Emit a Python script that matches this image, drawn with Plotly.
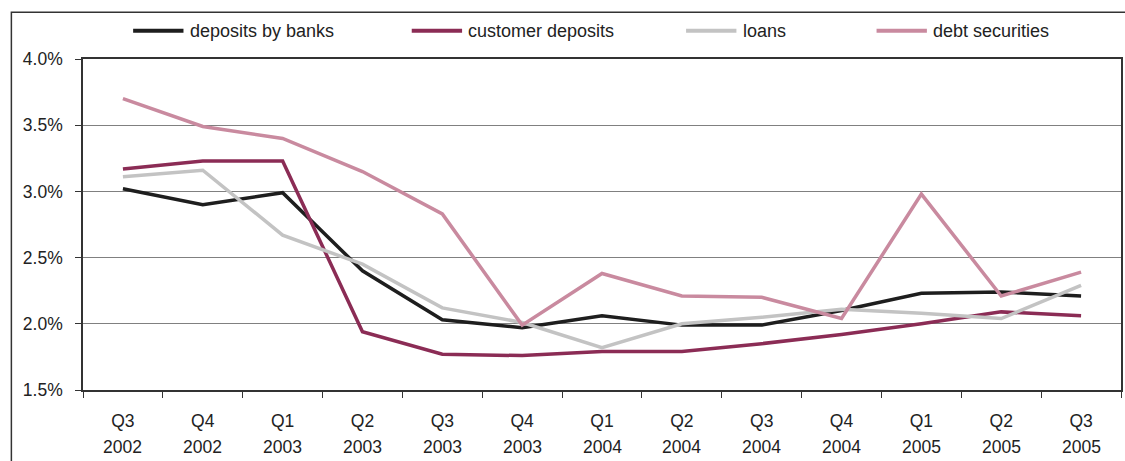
import plotly.graph_objects as go

quarter_labels = ["Q3", "Q4", "Q1", "Q2", "Q3", "Q4", "Q1", "Q2", "Q3", "Q4", "Q1", "Q2", "Q3"]
year_labels = ["2002", "2002", "2003", "2003", "2003", "2003", "2004", "2004", "2004", "2004", "2005", "2005", "2005"]
categories = [f"{q} {y}" for q, y in zip(quarter_labels, year_labels)]

deposits_by_banks = [3.02, 2.90, 2.99, 2.40, 2.03, 1.97, 2.06, 1.99, 1.99, 2.10, 2.23, 2.24, 2.21]
customer_deposits = [3.17, 3.23, 3.23, 1.94, 1.77, 1.76, 1.79, 1.79, 1.85, 1.92, 2.00, 2.09, 2.06]
loans = [3.11, 3.16, 2.67, 2.45, 2.12, 2.01, 1.82, 2.00, 2.05, 2.11, 2.08, 2.04, 2.29]
debt_securities = [3.70, 3.49, 3.40, 3.15, 2.83, 1.99, 2.38, 2.21, 2.20, 2.04, 2.98, 2.21, 2.39]

series_names = ["deposits by banks", "customer deposits", "loans", "debt securities"]
series_values = [deposits_by_banks, customer_deposits, loans, debt_securities]
series_colors = ["#1e1e1e", "#8b2c55", "#c3c3c3", "#c98a9f"]

y_ticks = [1.5, 2.0, 2.5, 3.0, 3.5, 4.0]

FONT = "Liberation Sans, Arial, sans-serif"
TXT = "#222222"
TICK_SIZE = 17.5

fig = go.Figure()
for name, vals, col in zip(series_names, series_values, series_colors):
    fig.add_trace(go.Scatter(x=categories, y=vals, name=name, mode="lines",
                             line=dict(color=col, width=3.5), showlegend=False))

# manual legend (line sample + label)
legend_x = [0.0483, 0.3167, 0.5810, 0.7645]
ly = 1.0855
for name, col, lx in zip(series_names, series_colors, legend_x):
    fig.add_shape(type="line", xref="paper", yref="paper", x0=lx, x1=lx + 0.0485,
                  y0=ly, y1=ly, line=dict(color=col, width=4))
    fig.add_annotation(xref="paper", yref="paper", x=lx + 0.0525, y=ly, text=name,
                       showarrow=False, xanchor="left", yanchor="middle",
                       font=dict(family=FONT, size=18, color=TXT))

# second row of category labels (years)
for cat, yr in zip(categories, year_labels):
    fig.add_annotation(xref="x", yref="paper", x=cat, y=0, text=yr, showarrow=False,
                       xanchor="center", yanchor="middle", yshift=-57,
                       font=dict(family=FONT, size=TICK_SIZE, color=TXT))

# outer frame
fig.add_shape(type="rect", xref="paper", yref="paper", x0=-0.069, x1=1.05,
              y0=-0.4, y1=1.141, line=dict(color="#333", width=1.5), layer="below")

fig.update_layout(
    width=1125, height=461,
    margin=dict(l=82.5, r=2, t=59, b=71),
    paper_bgcolor="white", plot_bgcolor="white",
    font=dict(family=FONT, size=TICK_SIZE, color=TXT),
    showlegend=False,
    xaxis=dict(type="category", categoryorder="array", categoryarray=categories,
               tickvals=categories, ticktext=quarter_labels,
               showline=True, linecolor="#333", linewidth=1.5, mirror=True,
               ticks="outside", tickson="boundaries", ticklen=6, tickcolor="#333",
               showgrid=False, range=[-0.5, 12.5], ticklabelstandoff=14),
    yaxis=dict(range=[1.5, 4.0], tickvals=y_ticks, ticktext=[f"{v:.1f}%" for v in y_ticks],
               showline=True, linecolor="#333", linewidth=1.5, mirror=True,
               ticks="outside", ticklen=6, tickcolor="#333",
               showgrid=True, gridcolor="#808080", gridwidth=1, zeroline=False,
               ticklabelstandoff=9),
)

fig.write_html("out.html", config={"displayModeBar": False},
               post_script="document.body.style.margin='0px';")
